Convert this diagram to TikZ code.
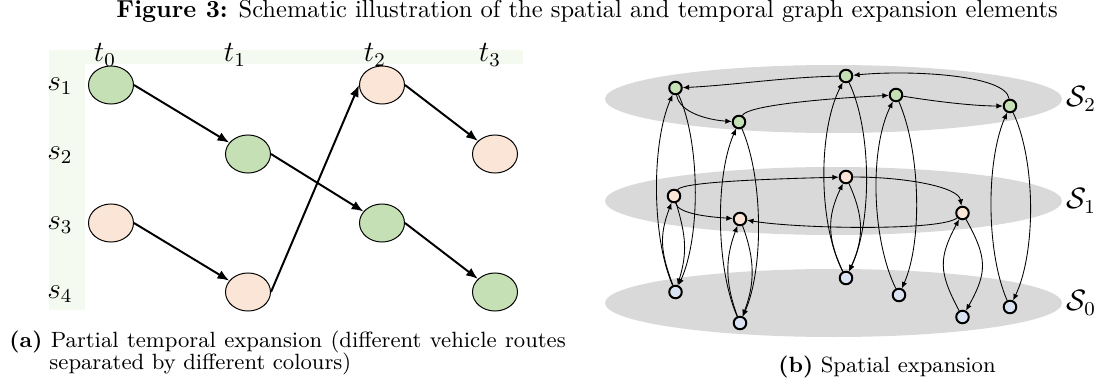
\documentclass[tikz,border=0pt]{standalone}
\usepackage{amsmath}
\usepackage{amssymb}
\usetikzlibrary{arrows.meta,shapes.geometric}

\definecolor{vgreen}{HTML}{C5E0B4}
\definecolor{vpeach}{HTML}{FBE5D6}
\definecolor{vblue}{HTML}{DAE3F3}
\definecolor{layergray}{HTML}{D9D9D9}
\definecolor{axisband}{HTML}{F5FAF1}

\tikzset{
    slot/.style={ellipse, draw, thin, minimum width=0.645cm, minimum height=0.545cm},
    hop/.style={thick, -{Latex[length=4.8pt,width=3.8pt]}},
    stop/.style={circle, draw, line width=0.8pt, minimum size=0.18cm, inner sep=0pt},
    link/.style={line width=0.35pt, -{Latex[length=2.6pt,width=2.2pt]}},
    caption/.style={anchor=base west, inner sep=0pt},
    subcap/.style={caption, font=\small},
}

\begin{document}
\begin{tikzpicture}[x=0.01433cm, y=-0.01433cm]
        \useasboundingbox (0,0) rectangle (1104,387);
        \node[caption] at (116,17.5) {\textbf{Figure 3:} Schematic illustration of the spatial and temporal graph expansion elements};

        % (a) time-space grid
        \fill[axisband] (49,50) rectangle (523,64);
        \fill[axisband] (49,50) rectangle (85,310);
        \node at (105,55) {\large $t_0$};
        \node at (235,55) {\large $t_1$};
        \node at (375,55) {\large $t_2$};
        \node at (490,55) {\large $t_3$};
        \node at (60,86) {\large $s_1$};
        \node at (60,155) {\large $s_2$};
        \node at (60,225) {\large $s_3$};
        \node at (60,294) {\large $s_4$};

        \node[slot, fill=vgreen] (t0s1) at (111,85) {};
        \node[slot, fill=vgreen] (t1s2) at (248,154) {};
        \node[slot, fill=vpeach] (t2s1) at (382,85) {};
        \node[slot, fill=vpeach] (t3s2) at (495,154) {};
        \node[slot, fill=vpeach] (t0s3) at (111,223) {};
        \node[slot, fill=vgreen] (t2s3) at (382,223) {};
        \node[slot, fill=vpeach] (t1s4) at (248,292) {};
        \node[slot, fill=vgreen] (t3s4) at (495,292) {};

        \draw[hop] (t0s1.east) -- (t1s2);
        \draw[hop] (t1s2.east) -- (t2s3);
        \draw[hop] (t2s3.east) -- (t3s4);
        \draw[hop] (t0s3.east) -- (t1s4);
        \draw[hop] (t1s4.east) -- (t2s1.west);
        \draw[hop] (t2s1.east) -- (t3s2);

        \node[subcap] at (9,347) {\makebox[7.97cm][s]{\textbf{(a)} Partial temporal expansion (different vehicle routes}};
        \node[subcap] at (49,369) {separated by different colours)};

        % (b) three layers
        \fill[layergray] (833.5,99) ellipse [x radius=228.5, y radius=34];
        \fill[layergray] (833.5,201) ellipse [x radius=228.5, y radius=34];
        \fill[layergray] (833.5,303) ellipse [x radius=228.5, y radius=34];
        \node[anchor=west, inner sep=0pt] at (1066,99) {\large $\mathcal{S}_2$};
        \node[anchor=west, inner sep=0pt] at (1066,201) {\large $\mathcal{S}_1$};
        \node[anchor=west, inner sep=0pt] at (1066,303) {\large $\mathcal{S}_0$};

        \node[stop, fill=vgreen] (v2a) at (675.5,88) {};
        \node[stop, fill=vgreen] (v2b) at (739,122) {};
        \node[stop, fill=vgreen] (v2c) at (846,76) {};
        \node[stop, fill=vgreen] (v2d) at (896,95) {};
        \node[stop, fill=vgreen] (v2e) at (1010,106) {};
        \node[stop, fill=vpeach] (v1a) at (674,196) {};
        \node[stop, fill=vpeach] (v1b) at (740,219) {};
        \node[stop, fill=vpeach] (v1c) at (846,177) {};
        \node[stop, fill=vpeach] (v1d) at (962.5,213) {};
        \node[stop, fill=vblue] (v0a) at (675.5,292) {};
        \node[stop, fill=vblue] (v0b) at (740,323) {};
        \node[stop, fill=vblue] (v0c) at (846,278) {};
        \node[stop, fill=vblue] (v0d) at (899,295) {};
        \node[stop, fill=vblue] (v0e) at (962.5,317) {};
        \node[stop, fill=vblue] (v0f) at (1010,307) {};

        % routes inside S2
        \draw[link] (v2a) .. controls +(4,25) and +(-30,-2) .. (v2b);
        \draw[link] (v2b) .. controls +(8,-16) and +(-80,4) .. (v2d);
        \draw[link] (v2d) .. controls +(30,5) and +(-40,0) .. (v2e);
        \draw[link] (v2e) .. controls +(-4,-32) and +(60,-6) .. (v2c);
        \draw[link] (v2c) .. controls +(-60,1) and +(60,-3) .. (v2a);
        % routes inside S1
        \draw[link] (v1a) .. controls +(4,18) and +(-30,-2) .. (v1b);
        \draw[link] (v1a) .. controls +(8,-14) and +(-80,2) .. (v1c);
        \draw[link] (v1c) .. controls +(60,0) and +(-4,-26) .. (v1d);
        \draw[link] (v1d) .. controls +(-20,18) and +(60,10) .. (v1b);

        % up on the left, down on the right
        \draw[link] (v0a) .. controls +(-24,-55) and +(-24,55) .. (v2a);
        \draw[link] (v2a) .. controls +(25,55) and +(25,-55) .. (v0a);
        \draw[link] (v0a) .. controls +(-15,-40) and +(-15,40) .. (v1a);
        \draw[link] (v1a) .. controls +(12,40) and +(12,-40) .. (v0a);
        \draw[link] (v0b) .. controls +(-24,-55) and +(-24,55) .. (v2b);
        \draw[link] (v2b) .. controls +(24,55) and +(24,-55) .. (v0b);
        \draw[link] (v0b) .. controls +(-15,-40) and +(-15,40) .. (v1b);
        \draw[link] (v1b) .. controls +(15,40) and +(15,-40) .. (v0b);
        \draw[link] (v0c) .. controls +(-28,-55) and +(-28,55) .. (v2c);
        \draw[link] (v2c) .. controls +(26,55) and +(26,-55) .. (v0c);
        \draw[link] (v0c) .. controls +(-19,-40) and +(-19,40) .. (v1c);
        \draw[link] (v1c) .. controls +(18,40) and +(18,-40) .. (v0c);
        \draw[link] (v0d) .. controls +(-27,-55) and +(-27,55) .. (v2d);
        \draw[link] (v2d) .. controls +(24,55) and +(24,-55) .. (v0d);
        \draw[link] (v0e) .. controls +(-24,-45) and +(-24,45) .. (v1d);
        \draw[link] (v1d) .. controls +(25,45) and +(25,-45) .. (v0e);
        \draw[link] (v0f) .. controls +(-24,-55) and +(-24,55) .. (v2e);
        \draw[link] (v2e) .. controls +(26,55) and +(26,-55) .. (v0f);

        \node[subcap] at (778,372) {\textbf{(b)} Spatial expansion};
\end{tikzpicture}
\end{document}
